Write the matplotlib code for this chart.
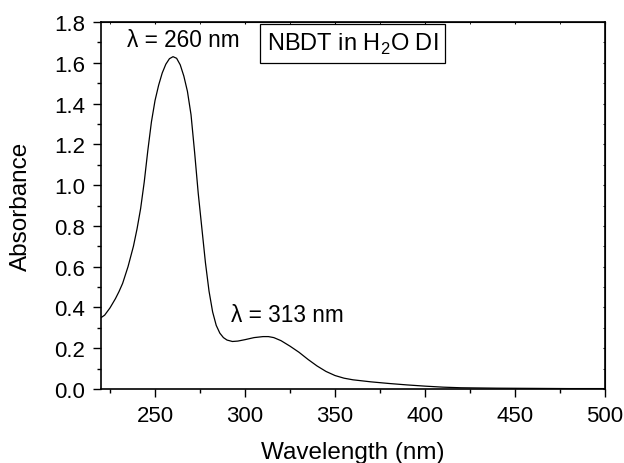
import matplotlib
matplotlib.use("Agg")
import matplotlib.pyplot as plt
from matplotlib.ticker import MultipleLocator

wavelength = [220, 222, 225, 228, 230, 232, 235, 238, 240, 242, 244, 246, 248, 250,
              252, 254, 256, 258, 260, 262, 264, 266, 268, 270, 272, 274, 276, 278,
              280, 282, 284, 286, 288, 290, 293, 296, 300, 305, 310, 313, 316, 320,
              325, 330, 335, 340, 345, 350, 355, 360, 370, 380, 390, 400, 410, 420,
              440, 460, 480, 500]
absorbance = [0.350, 0.362, 0.398, 0.443, 0.478, 0.518, 0.600, 0.700, 0.785, 0.885,
              1.015, 1.170, 1.310, 1.415, 1.490, 1.550, 1.593, 1.620, 1.630, 1.622,
              1.590, 1.535, 1.460, 1.345, 1.160, 0.960, 0.790, 0.620, 0.480, 0.378,
              0.312, 0.274, 0.252, 0.240, 0.233, 0.235, 0.242, 0.252, 0.257, 0.257,
              0.252, 0.237, 0.210, 0.180, 0.145, 0.113, 0.086, 0.066, 0.053, 0.045,
              0.035, 0.027, 0.020, 0.014, 0.009, 0.006, 0.004, 0.003, 0.002, 0.002]

x_ticks = [250, 300, 350, 400, 450, 500]
y_ticks = [0.0, 0.2, 0.4, 0.6, 0.8, 1.0, 1.2, 1.4, 1.6, 1.8]

plt.rcParams['font.family'] = ['Liberation Sans', 'DejaVu Sans']
plt.rcParams['mathtext.fontset'] = 'custom'
plt.rcParams['mathtext.rm'] = 'Liberation Sans'

fig = plt.figure(figsize=(6.24, 4.64), dpi=100)
ax = fig.add_axes([0.1619, 0.1595, 0.8077, 0.7909])

ax.plot(wavelength, absorbance, color='black', lw=0.9)
ax.set_xlim(220, 500)
ax.set_ylim(0, 1.8)
ax.set_xticks(x_ticks)
ax.set_yticks(y_ticks)
ax.set_yticklabels([f"{v:.1f}" for v in y_ticks])
ax.xaxis.set_minor_locator(MultipleLocator(25))
ax.yaxis.set_minor_locator(MultipleLocator(0.1))
ax.tick_params(which='major', direction='out', length=5.5, width=1.0, labelsize=16, pad=6)
ax.tick_params(which='minor', direction='out', length=3, width=1.0)
for s in ax.spines.values():
    s.set_linewidth(1.2)

sx = ax.secondary_xaxis('top')
sx.set_xticks(x_ticks)
sx.xaxis.set_minor_locator(MultipleLocator(25))
sx.tick_params(which='both', direction='in', length=1.5, labeltop=False)
sy = ax.secondary_yaxis('right')
sy.set_yticks(y_ticks)
sy.yaxis.set_minor_locator(MultipleLocator(0.1))
sy.tick_params(which='both', direction='in', length=1.5, labelright=False)

ax.set_xlabel('Wavelength (nm)', fontsize=17.5, labelpad=11)
ax.set_ylabel('Absorbance', fontsize=17.5, labelpad=16)

ax.text(234.4, 1.716, 'λ = 260 nm', fontsize=16.3, va='center', ha='left')
ax.text(292.2, 0.363, 'λ = 313 nm', fontsize=16.3, va='center', ha='left')
ax.text(312.0, 1.695, 'NBDT in H$_2$O DI', fontsize=17, va='center', ha='left',
        bbox=dict(boxstyle='square,pad=0.3', fc='white', ec='black', lw=0.9))

fig.savefig('out.png', dpi=100)
